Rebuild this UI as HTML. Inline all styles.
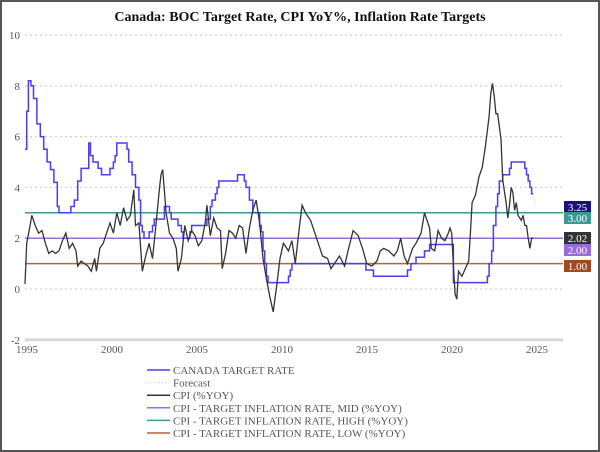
<!DOCTYPE html>
<html><head><meta charset="utf-8"><style>
html,body{margin:0;padding:0;background:#fff}
#wrap{position:relative;width:596px;height:448px;border:2px solid #555;overflow:hidden}
svg text{font-family:"Liberation Serif",serif}
</style></head><body>
<div id="wrap">
<svg id="chart" width="596" height="448" viewBox="2 2 596 448"></svg>
</div>
<script>
const yTicks=[-2,0,2,4,6,8,10];
const xTicks=[1995,2000,2005,2010,2015,2020,2025];
const rateX=[1995.0,1995.1,1995.2,1995.35,1995.5,1995.7,1995.9,1996.1,1996.3,1996.5,1996.7,1996.9,1997.0,1997.7,1997.9,1998.1,1998.3,1998.75,1998.85,1999.0,1999.3,1999.5,2000.0,2000.2,2000.3,2000.4,2001.0,2001.1,2001.3,2001.5,2001.7,2001.8,2001.9,2002.0,2002.3,2002.5,2002.6,2003.2,2003.5,2003.6,2004.0,2004.2,2004.3,2004.7,2004.8,2005.7,2005.9,2006.0,2006.2,2006.3,2006.4,2007.5,2007.9,2008.0,2008.2,2008.4,2008.8,2008.9,2009.0,2009.1,2009.2,2009.3,2010.5,2010.6,2010.7,2015.05,2015.5,2017.5,2017.7,2018.0,2018.5,2018.8,2020.2,2022.2,2022.3,2022.45,2022.55,2022.7,2022.8,2022.9,2023.1,2023.5,2023.6,2024.4,2024.5,2024.6,2024.7,2024.8,2024.9];
const rateY=[5.5,7.0,8.2,8.0,7.5,6.5,6.0,5.5,5.0,4.7,4.2,3.25,3.0,3.25,3.5,4.25,4.75,5.75,5.25,5.0,4.75,4.5,4.75,5.0,5.25,5.75,5.5,5.0,4.5,4.0,3.5,2.5,2.25,2.0,2.25,2.5,2.75,3.25,3.0,2.75,2.5,2.25,2.0,2.25,2.5,2.75,3.25,3.5,3.75,4.0,4.25,4.5,4.25,4.0,3.5,3.0,2.5,2.25,1.5,1.0,0.5,0.25,0.5,0.75,1.0,0.75,0.5,0.75,1.0,1.25,1.5,1.75,0.25,0.5,1.0,1.5,2.5,3.25,3.75,4.25,4.5,4.75,5.0,4.75,4.5,4.25,4.0,3.75,3.75];
const fcX=[2024.9,2025.0];
const fcY=[3.75,3.25];
const cpiX=[1995.0,1995.1,1995.3,1995.4,1995.6,1995.8,1996.0,1996.2,1996.4,1996.6,1996.8,1997.0,1997.2,1997.4,1997.6,1997.8,1998.0,1998.1,1998.3,1998.5,1998.7,1998.9,1999.1,1999.2,1999.4,1999.6,1999.8,2000.0,2000.2,2000.4,2000.6,2000.8,2001.0,2001.2,2001.4,2001.5,2001.7,2001.9,2002.1,2002.3,2002.5,2002.7,2002.9,2003.0,2003.1,2003.3,2003.5,2003.7,2003.9,2004.0,2004.2,2004.4,2004.6,2004.8,2005.0,2005.2,2005.4,2005.6,2005.7,2005.9,2006.1,2006.3,2006.5,2006.6,2006.8,2007.0,2007.2,2007.4,2007.6,2007.8,2008.0,2008.2,2008.4,2008.6,2008.8,2009.0,2009.2,2009.4,2009.6,2009.8,2010.0,2010.2,2010.5,2010.7,2010.9,2011.1,2011.3,2011.5,2011.8,2012.0,2012.2,2012.5,2012.8,2013.0,2013.2,2013.5,2013.8,2014.0,2014.3,2014.6,2014.9,2015.1,2015.4,2015.7,2015.9,2016.1,2016.4,2016.7,2016.9,2017.1,2017.3,2017.5,2017.8,2018.0,2018.3,2018.5,2018.6,2018.8,2018.9,2019.1,2019.3,2019.5,2019.7,2019.9,2020.0,2020.1,2020.2,2020.3,2020.4,2020.5,2020.7,2020.9,2021.1,2021.2,2021.3,2021.5,2021.7,2021.9,2022.1,2022.3,2022.4,2022.5,2022.6,2022.7,2022.8,2023.0,2023.1,2023.3,2023.4,2023.5,2023.6,2023.7,2023.8,2023.9,2024.0,2024.1,2024.2,2024.3,2024.4,2024.5,2024.6,2024.7,2024.8,2024.9];
const cpiY=[0.2,1.8,2.5,2.9,2.5,2.2,2.3,1.8,1.4,1.5,1.4,1.5,1.9,2.2,1.6,1.8,1.5,0.9,1.1,1.0,0.9,0.7,1.2,0.7,1.6,1.8,2.2,2.6,2.2,3.0,2.5,3.2,2.7,2.9,3.9,2.5,2.6,0.7,1.3,1.8,1.2,2.5,3.9,4.5,4.7,3.0,2.2,2.0,1.6,0.7,1.2,2.5,1.9,2.3,2.1,1.7,1.9,2.6,3.3,2.1,2.8,2.4,2.3,0.8,1.4,2.3,2.2,2.0,2.5,2.4,1.4,2.4,3.1,3.5,2.6,1.2,0.4,-0.3,-0.9,0.1,1.2,1.8,1.5,1.9,1.0,2.2,3.3,3.0,2.7,2.3,1.9,1.3,1.2,0.8,1.0,1.3,0.9,1.5,2.3,2.1,1.5,1.0,0.9,1.1,1.5,1.6,1.5,1.3,1.5,2.0,1.3,1.0,1.6,1.8,2.2,3.0,2.8,2.4,1.6,1.5,2.3,2.0,1.9,2.2,2.4,2.2,0.9,-0.2,-0.4,0.7,0.5,0.8,1.1,2.2,3.4,3.7,4.4,4.8,5.7,6.8,7.7,8.1,7.6,6.9,6.9,5.9,4.3,3.4,2.8,3.3,4.0,3.8,3.1,3.4,2.9,2.8,2.7,2.9,2.5,2.5,2.0,1.6,2.0,2.0];
const targetVals=[2,3,1];
const targetColors=["#9a6be0","#3a9a96","#b5643c"];
const endLabels=["3.25","3.00","2.02","2.00","1.00"];
const endColors=["#1a1080","#3a9a96","#333333","#9a6be0","#a04a1e"];
const legendLabels=["CANADA TARGET RATE","Forecast","CPI (%YOY)","CPI - TARGET INFLATION RATE, MID (%YOY)","CPI - TARGET INFLATION RATE, HIGH (%YOY)","CPI - TARGET INFLATION RATE, LOW (%YOY)"];
const legendColors=["#4b3bf5","#cccccc","#333333","#9a6be0","#3a9a96","#b5643c"];

const NS="http://www.w3.org/2000/svg";
const svg=document.getElementById('chart');
const X0=25,X1=563;
function xs(t){return 25+(t-1995)*17;}
function ys(v){return 289-25.4*v;}
function mk(tag,attrs,parent){const e=document.createElementNS(NS,tag);for(const k in attrs)e.setAttribute(k,attrs[k]);(parent||svg).appendChild(e);return e;}

const title=mk('text',{x:300,y:21,'text-anchor':'middle','font-size':'14','font-weight':'bold',fill:'#111'});
title.textContent="Canada: BOC Target Rate, CPI YoY%, Inflation Rate Targets";



yTicks.forEach(v=>{
  if(v>-2){const g=mk('line',{x1:X0,x2:X1,y1:ys(v),y2:ys(v),stroke:'#cfcfcf','stroke-width':1.3,'stroke-dasharray':'2,3'});
  
  }
  const t=mk('text',{x:20,y:ys(v)+4,'text-anchor':'end','font-size':'11',fill:'#555'});
  t.textContent=v;
  
  
});
const ax=mk('line',{x1:X0,x2:X1,y1:ys(-2),y2:ys(-2),stroke:'#d8d8d8','stroke-width':3});


xTicks.forEach(v=>{
  const t=mk('text',{x:xs(v)+2,y:353,'text-anchor':'middle','font-size':'11',fill:'#555'});
  t.textContent=v;
  
  
});
targetVals.forEach((v,i)=>{
  const l=mk('line',{x1:X0,x2:X1,y1:ys(v),y2:ys(v),stroke:targetColors[i],'stroke-width':1.5});
  
  
});
function stepPath(xa,ya,end){let d='';for(let i=0;i<xa.length;i++){const x=xs(xa[i]),y=ys(ya[i]);if(i===0)d+='M'+x+','+y;else d+='H'+x+'V'+y;}return d;}
const rp=mk('path',{d:stepPath(rateX,rateY),fill:'none',stroke:'#4b3bf5','stroke-width':1.5});


const fp=mk('path',{d:'M'+fcX.map((x,i)=>xs(x)+','+ys(fcY[i])).join('L'),fill:'none',stroke:'#ccc','stroke-width':1,'stroke-dasharray':'1,2'});


const cp=mk('path',{d:'M'+cpiX.map((x,i)=>xs(x).toFixed(1)+','+ys(cpiY[i]).toFixed(1)).join('L'),fill:'none',stroke:'#333','stroke-width':1.3});



const boxTops=[201,212,232,244,260];
endLabels.forEach((s,i)=>{
  const g=mk('g',{});
  
  
  mk('rect',{x:564,y:boxTops[i],width:27,height:12,fill:endColors[i]},g);
  const t=mk('text',{x:577.5,y:boxTops[i]+10,'text-anchor':'middle','font-size':'11',fill:'#fff'},g);
  t.textContent=s;
});
legendLabels.forEach((s,i)=>{
  const y=370+i*12.6;
  const g=mk('g',{});
  
  
  mk('line',{x1:147,x2:170,y1:y,y2:y,stroke:legendColors[i],'stroke-width':i===1?1:1.5,'stroke-dasharray':i===1?'1,2':'none'},g);
  const t=mk('text',{x:173,y:y+4,'font-size':'11',fill:'#555'},g);
  t.textContent=s;
});
</script>
</body></html>
